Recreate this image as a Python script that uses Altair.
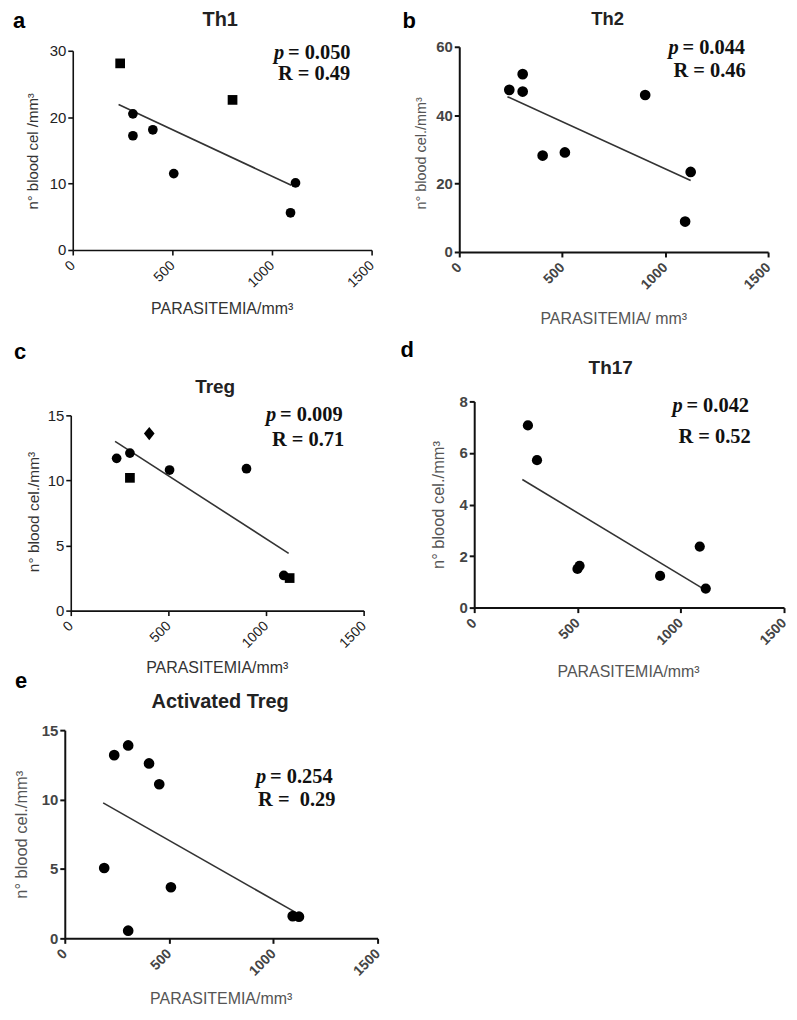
import altair as alt
import pandas as pd

# ---------------- data ----------------
x_ticks = [0, 500, 1000, 1500]

th1_x = [238, 302, 302, 402, 507, 802, 1118, 1093]
th1_y = [28.1, 20.5, 17.2, 18.1, 11.5, 22.6, 10.1, 5.6]
th1_g = ["sq", "ci", "ci", "ci", "ci", "sq", "ci", "ci"]
th1_fit_x = [230, 1097]
th1_fit_y = [21.9, 9.75]
th1_yticks = [0, 10, 20, 30]

th2_x = [243, 308, 308, 405, 513, 903, 1124, 1097]
th2_y = [47.4, 52.0, 46.9, 28.2, 29.1, 45.9, 23.4, 8.9]
th2_g = ["ci"] * 8
th2_fit_x = [234, 1124]
th2_fit_y = [45.4, 20.9]
th2_yticks = [0, 20, 40, 60]

treg_x = [235, 303, 303, 402, 506, 900, 1091, 1121]
treg_y = [11.7, 12.1, 10.2, 13.6, 10.8, 10.9, 2.7, 2.5]
treg_g = ["ci", "ci", "sq", "di", "ci", "ci", "ci", "sq"]
treg_fit_x = [227, 1116]
treg_fit_y = [13.0, 4.4]
treg_yticks = [0, 5, 10, 15]

th17_x = [260, 304, 500, 510, 900, 1092, 1121]
th17_y = [7.07, 5.72, 1.5, 1.62, 1.23, 2.37, 0.74]
th17_g = ["ci"] * 7
th17_fit_x = [233, 1114]
th17_fit_y = [4.97, 0.71]
th17_yticks = [0, 2, 4, 6, 8]

atreg_x = [189, 237, 304, 304, 404, 453, 509, 1093, 1123]
atreg_y = [5.07, 13.2, 13.9, 0.55, 12.6, 11.1, 3.68, 1.6, 1.56]
atreg_g = ["ci"] * 9
atreg_fit_x = [184, 1107]
atreg_fit_y = [9.76, 1.87]
atreg_yticks = [0, 5, 10, 15]

titles = ["Th1", "Th2", "Treg", "Th17", "Activated Treg"]
letters = ["a", "b", "c", "d", "e"]
p_values = ["= 0.050", "= 0.044", "= 0.009", "= 0.042", "= 0.254"]
r_values = ["R = 0.49", "R = 0.46", "R = 0.71", "R = 0.52", "R =\u00a0 0.29"]
y_titles = ["n° blood cel /mm³", "n° blood cel./mm³", "n° blood cel./mm³",
            "n° blood cel./mm³", "n° blood cel./mm³"]
x_titles = ["PARASITEMIA/mm³", "PARASITEMIA/ mm³", "PARASITEMIA/mm³",
            "PARASITEMIA/mm³", "PARASITEMIA/mm³"]

SANS = "Liberation Sans, Arial, sans-serif"
SERIF = "Liberation Serif, Times New Roman, serif"
DIAMOND = "M0,-1.35L1.1,0L0,1.35L-1.1,0Z"


def txt(text, x, y, size, weight="normal", style="normal", font=SANS,
        color="#222", align="left", baseline="alphabetic", angle=0):
    kw = dict(fontSize=size, fontWeight=weight, fontStyle=style, font=font,
              color=color, align=align, baseline=baseline)
    if angle:
        kw["angle"] = angle
    return (alt.Chart(pd.DataFrame({"t": [text]}))
            .mark_text(**kw)
            .encode(text="t:N", x=alt.value(x), y=alt.value(y)))


def panel(i, xs, ys, gs, fx, fy, yticks, lay, graphpad, msize):
    L, T, R, B = lay["plot"]
    ymax = yticks[-1]
    lab_w = "bold" if graphpad else "normal"
    lab_c = "#444" if graphpad else "#222"
    dom_w = 2 if graphpad else 1.6
    xaxis = alt.Axis(values=x_ticks, format="d", labelAngle=-45, labelAlign="right",
                     labelBaseline="middle", labelFlush=False, labelOverlap=False,
                     labelFont=SANS, labelFontSize=14, labelFontWeight=lab_w,
                     labelColor=lab_c, labelPadding=8, tickSize=5, tickWidth=dom_w,
                     tickColor="#111", domainColor="#111", domainWidth=dom_w,
                     grid=False, title=None)
    yaxis = alt.Axis(values=yticks, format="d", offset=-L, labelFlush=False,
                     labelOverlap=False, labelFont=SANS, labelFontSize=15,
                     labelFontWeight=lab_w, labelColor=lab_c, labelPadding=2,
                     tickSize=5, tickWidth=dom_w, tickColor="#111",
                     domainColor="#111", domainWidth=dom_w, grid=False, title=None)
    xs_ = alt.Scale(domain=[0, 1500], range=[L, R], nice=False)
    ys_ = alt.Scale(domain=[0, ymax], range=[B, T], nice=False)
    xenc = alt.X("x:Q", scale=xs_, axis=xaxis)
    yenc = alt.Y("y:Q", scale=ys_, axis=yaxis)

    df = pd.DataFrame({"x": xs, "y": ys, "g": gs})
    fit = pd.DataFrame({"x": fx, "y": fy})

    line = alt.Chart(fit).mark_line(color="#333", strokeWidth=1.6).encode(x=xenc, y=yenc)
    pts = alt.Chart(df).mark_point(filled=True, opacity=1, color="#000", size=msize).encode(
        x=xenc, y=yenc,
        shape=alt.Shape("g:N", legend=None,
                        scale=alt.Scale(domain=["ci", "sq", "di"],
                                        range=["circle", "square", DIAMOND])))

    ax_c = "#555" if graphpad else "#333"
    layers = [
        line, pts,
        txt(titles[i], lay["title"][0], lay["title"][1], lay["tsize"], weight="bold",
            align="center", color="#222"),
        txt(letters[i], lay["letter"][0], lay["letter"][1], 22, weight="bold", color="#000"),
        txt("p", lay["p"][0], lay["p"][1], 20.5, weight="bold", style="italic",
            font=SERIF, color="#111"),
        txt(p_values[i], lay["p"][0] + 14, lay["p"][1], 20.5, weight="bold",
            font=SERIF, color="#111"),
        txt(r_values[i], lay["r"][0], lay["r"][1], 20.5, weight="bold",
            font=SERIF, color="#111"),
        txt(y_titles[i], lay["yt"][0], lay["yt"][1], lay["ytsize"], align="center",
            baseline="middle", angle=270, color=ax_c),
        txt(x_titles[i], lay["xt"][0], lay["xt"][1], 16, align="center",
            baseline="middle", color=ax_c),
    ]
    return alt.layer(*layers).properties(width=R, height=B)


# layout: positions relative to each grid cell (plot = left, top, right, bottom)
lay_a = dict(plot=(8, 4, 308, 204), title=(156, -21), tsize=20, letter=(-52, -19),
             p=(210, 12), r=(214, 33), yt=(-32, 105), ytsize=15, xt=(158, 263))
lay_b = dict(plot=(0, 0, 310, 206), title=(149, -22), tsize=18.5, letter=(-57, -19),
             p=(210, 7), r=(215, 30), yt=(-37, 107), ytsize=14.5, xt=(155, 273))
lay_c = dict(plot=(6, 44, 300, 240), title=(151, 22), tsize=19, letter=(-51, -13),
             p=(202, 50), r=(208, 75), yt=(-31, 141), ytsize=15.5, xt=(153, 298))
lay_d = dict(plot=(15, 30, 326, 237), title=(152, 2), tsize=19, letter=(-59, -15),
             p=(214, 41), r=(220, 72), yt=(-20, 134), ytsize=16.5, xt=(170, 302))
lay_e = dict(plot=(0, 0, 314, 209), title=(156, -22), tsize=20, letter=(-50, -42),
             p=(192, 53), r=(194, 76), yt=(-43, 105), ytsize=16.5, xt=(157, 270))

pa = panel(0, th1_x, th1_y, th1_g, th1_fit_x, th1_fit_y, th1_yticks, lay_a, False, 95)
pb = panel(1, th2_x, th2_y, th2_g, th2_fit_x, th2_fit_y, th2_yticks, lay_b, True, 115)
pc = panel(2, treg_x, treg_y, treg_g, treg_fit_x, treg_fit_y, treg_yticks, lay_c, False, 95)
pd_ = panel(3, th17_x, th17_y, th17_g, th17_fit_x, th17_fit_y, th17_yticks, lay_d, True, 105)
pe = panel(4, atreg_x, atreg_y, atreg_g, atreg_fit_x, atreg_fit_y, atreg_yticks, lay_e, True, 115)

chart = (alt.concat(pa, pb, pc, pd_, pe, columns=2, bounds="flush",
                    spacing=alt.RowColnumber(row=120, column=82))
         .properties(padding={"left": 5, "top": 0, "right": 0, "bottom": 0},
                     background="white")
         .configure_view(strokeWidth=0))

chart.save("out.html", embed_options={"renderer": "svg", "actions": False})
